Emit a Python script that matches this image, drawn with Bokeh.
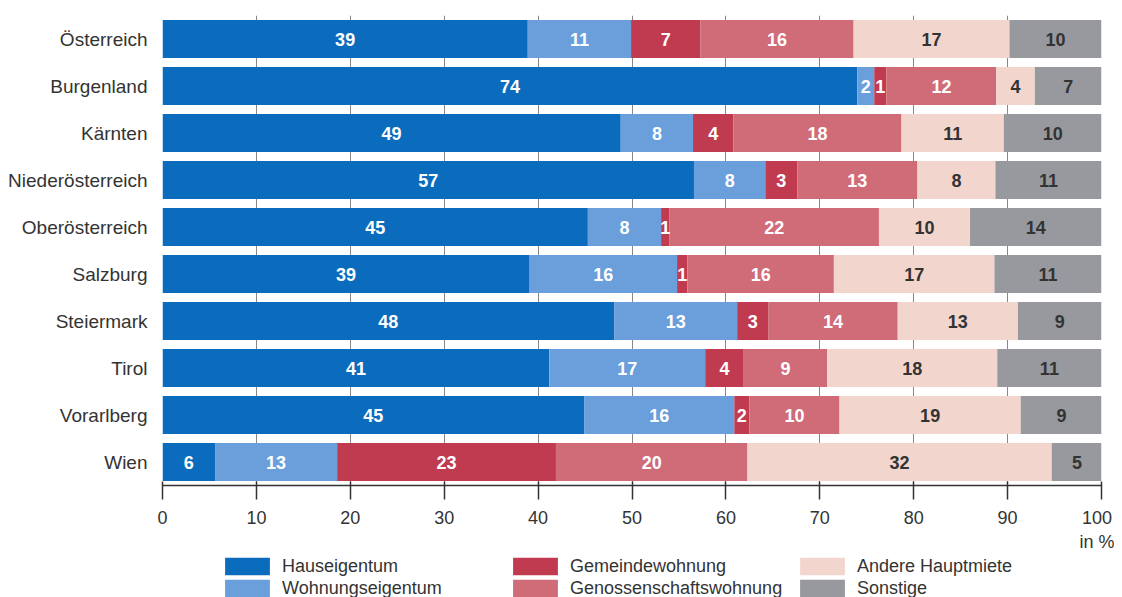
from bokeh.plotting import figure
from bokeh.layouts import column
from bokeh.models import ColumnDataSource, FactorRange, Legend, LegendItem, FixedTicker, Range1d
from bokeh.core.properties import value
from bokeh.embed import file_html
from bokeh.resources import INLINE

regions = ["Österreich", "Burgenland", "Kärnten", "Niederösterreich", "Oberösterreich",
           "Salzburg", "Steiermark", "Tirol", "Vorarlberg", "Wien"]
hauseigentum = [38.9, 74.0, 48.8, 56.6, 45.3, 39.1, 48.1, 41.2, 44.9, 5.6]
wohnungseigentum = [11.0, 1.8, 7.7, 7.6, 7.8, 15.7, 13.1, 16.6, 16.0, 13.0]
gemeindewohnung = [7.4, 1.3, 4.3, 3.4, 0.9, 1.1, 3.3, 4.1, 1.6, 23.3]
genossenschaft = [16.3, 11.7, 17.9, 12.8, 22.3, 15.6, 13.8, 8.9, 9.6, 20.4]
andere_hauptmiete = [16.6, 4.1, 10.9, 8.3, 9.7, 17.1, 12.8, 18.1, 19.3, 32.4]
sonstige = [9.8, 7.1, 10.4, 11.3, 14.0, 11.4, 8.9, 11.1, 8.7, 5.4]

series_names = ["Hauseigentum", "Wohnungseigentum", "Gemeindewohnung",
                "Genossenschaftswohnung", "Andere Hauptmiete", "Sonstige"]
series_values = [hauseigentum, wohnungseigentum, gemeindewohnung,
                 genossenschaft, andere_hauptmiete, sonstige]
colors = ["#0b6cbd", "#6a9fdc", "#c03a50", "#d06c78", "#f2d6ce", "#98999e"]
label_colors = ["white", "white", "white", "white", "#333333", "#333333"]
x_ticks = [0, 10, 20, 30, 40, 50, 60, 70, 80, 90, 100]
unit_label = "in %"

keys = ["s0", "s1", "s2", "s3", "s4", "s5"]
FONT = "Liberation Sans"
TXT = "#333333"

data = {"region": regions}
for k, v in zip(keys, series_values):
    data[k] = v
src = ColumnDataSource(data)

W = 1114
p = figure(width=W, height=557,
           y_range=FactorRange(factors=regions[::-1]),
           x_range=(0, 100),
           output_backend="svg", toolbar_location=None,
           min_border_left=162, min_border_right=13,
           min_border_top=15, min_border_bottom=72)
p.outline_line_color = None

renderers = p.hbar_stack(keys, y="region", height=0.81, color=colors,
                         line_color=None, source=src)

# segment labels
tx, ty, tt, tc = [], [], [], []
for i, reg in enumerate(regions):
    cum = 0.0
    for s, vals in enumerate(series_values):
        v = vals[i]
        tx.append(cum + v / 2.0)
        ty.append(reg)
        tt.append(f"{v:.0f}")
        tc.append(label_colors[s])
        cum += v
tsrc = ColumnDataSource(dict(x=tx, y=ty, t=tt, c=tc))
p.text(x="x", y="y", text="t", text_color="c", source=tsrc,
       text_align="center", text_baseline="middle",
       text_font=value(FONT), text_font_size="18px", text_font_style="bold")

# grid
p.ygrid.grid_line_color = None
p.xgrid.grid_line_color = "#888888"
p.xgrid.grid_line_width = 1
p.xgrid.ticker = FixedTicker(ticks=x_ticks)

# x axis
xa = p.xaxis[0]
xa.ticker = FixedTicker(ticks=x_ticks)
xa.major_label_overrides = {100: "100\n" + unit_label}
xa.axis_line_color = TXT
xa.axis_line_width = 1.5
xa.major_tick_line_color = TXT
xa.major_tick_line_width = 1.5
xa.major_tick_in = 4
xa.major_tick_out = 14
xa.minor_tick_line_color = None
xa.major_label_text_font = FONT
xa.major_label_text_font_size = "18px"
xa.major_label_text_color = TXT
xa.major_label_standoff = 8

# y axis
ya = p.yaxis[0]
ya.axis_line_color = None
ya.major_tick_line_color = None
ya.minor_tick_line_color = None
ya.major_label_text_font = FONT
ya.major_label_text_font_size = "19px"
ya.major_label_text_color = TXT
ya.major_label_standoff = 9

# legend figure (its frame is aligned with the main frame by the column layout)
pl = figure(width=W, height=40, title=None,
            x_range=Range1d(0, 1), y_range=Range1d(0, 1),
            x_axis_location=None, y_axis_location=None,
            output_backend="svg", toolbar_location=None,
            min_border_left=0, min_border_right=0,
            min_border_top=0, min_border_bottom=0)
pl.outline_line_color = None
pl.xgrid.grid_line_color = None
pl.ygrid.grid_line_color = None

# off-screen proxy bars, only used to draw the legend swatches
dummy = []
for c in colors:
    dummy.append(pl.hbar(y=[-10], right=[-10], left=[-11], height=0.5,
                         fill_color=c, line_color=None))

for col, x0 in enumerate([57, 345, 632]):
    items = [LegendItem(label=series_names[2 * col + j], renderers=[dummy[2 * col + j]])
             for j in range(2)]
    leg = Legend(items=items, location=(x0, -2), orientation="vertical",
                 padding=0, margin=0, spacing=0,
                 glyph_width=56, glyph_height=22, label_height=22,
                 label_standoff=7,
                 label_text_font=FONT, label_text_font_size="18px",
                 label_text_color=TXT,
                 border_line_color=None, background_fill_alpha=0)
    pl.add_layout(leg, "center")

layout = column(p, pl, spacing=0)
open("out.html", "w").write(file_html(layout, INLINE))
